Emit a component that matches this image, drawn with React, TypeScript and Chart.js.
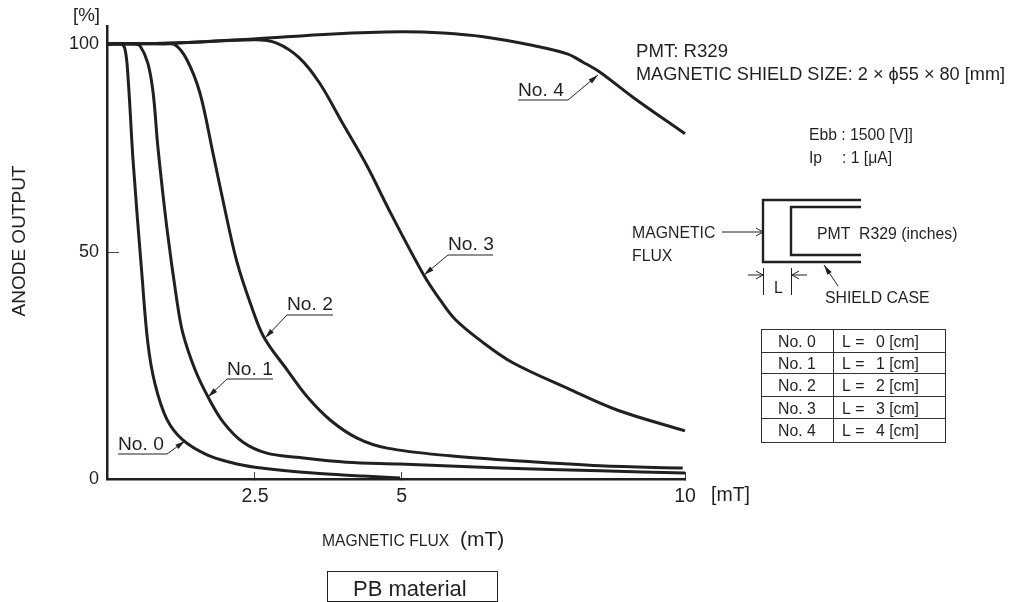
import React, { useEffect, useRef } from "react";
import { Chart, LinearScale, registerables } from "chart.js";

// ---- data ----
const xTicks = [2.5, 5, 10];
const yTicks = [0, 50, 100];
const xKnotValues = [0, 2.5, 5, 10];
const xKnotPositions = [0, 0.256, 0.51, 1];
const yKnotValues = [0, 50, 104.3];
const yKnotPositions = [0, 0.501, 1];

const no0X = [0, 0.22, 0.3, 0.355, 0.44, 0.59, 0.69, 0.81, 1.01, 1.28, 1.69, 2.08, 2.5, 3.49, 4.34, 4.97];
const no0Y = [100, 100, 99, 92.1, 72.1, 45, 30, 21, 13.2, 8.6, 5.3, 3.7, 2.6, 1.3, 0.66, 0.2];
const no1X = [0, 0.47, 0.56, 0.69, 0.78, 0.86, 1.01, 1.18, 1.28, 1.49, 1.71, 1.96, 2.3, 2.7, 3.21, 4.06, 4.96, 6.74, 8.5, 10];
const no1Y = [100, 100, 99.5, 95.4, 88.2, 75.2, 56, 39.4, 32.2, 24, 18, 12.6, 8.1, 5.7, 4.8, 3.7, 3.3, 2.4, 1.8, 1.3];
const no2X = [0, 0.98, 1.15, 1.35, 1.57, 1.79, 2.03, 2.2, 2.42, 2.65, 3.05, 3.39, 3.78, 4.24, 4.75, 5.85, 7.03, 8.5, 9.96];
const no2Y = [100, 100, 99.8, 96.2, 88.2, 73.8, 57.7, 47.6, 38.8, 31.3, 24, 18.1, 13, 9, 6.8, 5.1, 4, 2.9, 2.4];
const no3X = [0, 1.15, 2.5, 2.87, 3.26, 3.6, 3.99, 4.4, 4.82, 5.39, 5.68, 5.94, 6.42, 6.96, 7.92, 8.8, 10];
const no3Y = [100, 100.2, 101, 100.2, 96.6, 90.6, 81, 70.9, 59.1, 44.9, 39.4, 35.2, 30.2, 25.6, 20, 15.2, 10.6];
const no4X = [0, 1.15, 2.47, 3.83, 4.97, 5.73, 6.44, 7.32, 7.92, 8.2, 8.5, 9.08, 10];
const no4Y = [100, 100.2, 101.2, 102.4, 102.9, 102.6, 101.7, 99.6, 97.6, 95.6, 93.2, 87.2, 78.4];

const seriesNames = ["No. 0", "No. 1", "No. 2", "No. 3", "No. 4"];
const shieldLengths = ["0", "1", "2", "3", "4"];

const INK = "#231f20";
const FONT = '"Liberation Sans", Arial, sans-serif';

// Axis whose printed ticks are not evenly spaced in the drawing
class KnotScale extends LinearScale {
  static id = "knot";
  static defaults = LinearScale.defaults;
  getPixelForValue(value: number) {
    const vs = (this as any).options.knotValues as number[];
    const ps = (this as any).options.knotPositions as number[];
    let i = 0;
    while (i < vs.length - 2 && value > vs[i + 1]) i++;
    const dec = ps[i] + ((value - vs[i]) / (vs[i + 1] - vs[i])) * (ps[i + 1] - ps[i]);
    return (this as any).getPixelForDecimal(dec);
  }
  getValueForPixel(pixel: number) {
    const vs = (this as any).options.knotValues as number[];
    const ps = (this as any).options.knotPositions as number[];
    const dec = (this as any).getDecimalForPixel(pixel);
    let i = 0;
    while (i < ps.length - 2 && dec > ps[i + 1]) i++;
    return vs[i] + ((dec - ps[i]) / (ps[i + 1] - ps[i])) * (vs[i + 1] - vs[i]);
  }
}

Chart.register(...registerables, KnotScale as any);

function line(ctx: CanvasRenderingContext2D, pts: number[][], width: number) {
  ctx.lineWidth = width;
  ctx.beginPath();
  pts.forEach(([x, y], i) => (i ? ctx.lineTo(x, y) : ctx.moveTo(x, y)));
  ctx.stroke();
}

function solidHead(ctx: CanvasRenderingContext2D, fx: number, fy: number, tx: number, ty: number, len = 10, half = 2.6) {
  const a = Math.atan2(ty - fy, tx - fx);
  const bx = tx - Math.cos(a) * len;
  const by = ty - Math.sin(a) * len;
  ctx.beginPath();
  ctx.moveTo(tx, ty);
  ctx.lineTo(bx - Math.sin(a) * half, by + Math.cos(a) * half);
  ctx.lineTo(bx + Math.sin(a) * half, by - Math.cos(a) * half);
  ctx.closePath();
  ctx.fill();
}

function openArrow(ctx: CanvasRenderingContext2D, fx: number, y: number, tx: number) {
  const d = tx > fx ? -1 : 1;
  line(ctx, [[fx, y], [tx, y]], 1);
  line(ctx, [[tx + d * 7, y - 4], [tx, y], [tx + d * 7, y + 4]], 1);
}

function text(ctx: CanvasRenderingContext2D, s: string, x: number, y: number, size: number) {
  ctx.font = `${size}px ${FONT}`;
  ctx.fillText(s, x, y);
}

const annotationPlugin = {
  id: "annotations",
  afterDraw(chart: any) {
    const ctx: CanvasRenderingContext2D = chart.ctx;
    ctx.save();
    ctx.fillStyle = INK;
    ctx.strokeStyle = INK;
    ctx.textAlign = "left";
    ctx.textBaseline = "alphabetic";

    text(ctx, "[%]", 73, 21, 18.7);
    text(ctx, "[mT]", 711, 501, 19.5);

    ctx.save();
    ctx.translate(25, 241);
    ctx.rotate(-Math.PI / 2);
    ctx.textAlign = "center";
    text(ctx, "ANODE OUTPUT", 0, 0, 19);
    ctx.restore();

    text(ctx, "MAGNETIC FLUX", 322, 546, 15.7);
    text(ctx, "(mT)", 460, 546, 21);

    // material box
    ctx.lineWidth = 1;
    ctx.strokeRect(327.5, 571.5, 170, 30);
    text(ctx, "PB material", 353, 596, 22);

    // series call-outs: text, underline, tip
    const callouts: [string, number, number, number, number, number, number][] = [
      [seriesNames[0], 118, 450, 167, 454, 185, 441],
      [seriesNames[1], 227, 375, 273, 379, 208, 397],
      [seriesNames[2], 287, 310, 333, 315, 265, 338],
      [seriesNames[3], 448, 250, 493, 255, 424, 275],
      [seriesNames[4], 518, 96, 568, 100, 598, 75],
    ];
    callouts.forEach(([label, tx, ty, ux, uy, ax, ay]) => {
      text(ctx, label, tx, ty, 19.2);
      const elbowX = tx === 518 ? ux : tx === 118 ? ux : tx;
      line(ctx, [[tx, uy], [ux, uy]], 1);
      line(ctx, [[elbowX, uy], [ax, ay]], 1);
      solidHead(ctx, elbowX, uy, ax, ay);
    });

    // header notes
    text(ctx, "PMT: R329", 636, 57, 18.6);
    text(ctx, "MAGNETIC SHIELD SIZE: 2 × ϕ55 × 80 [mm]", 636, 80, 18.15);
    text(ctx, "Ebb : 1500 [V]]", 809, 140, 15.7);
    text(ctx, "Ip", 809, 163, 15.7);
    text(ctx, ": 1 [μA]", 842, 163, 15.7);

    // shield diagram
    line(ctx, [[861, 200], [763, 200], [763, 262], [861, 262]], 2.4);
    line(ctx, [[861, 207], [791, 207], [791, 255], [861, 255]], 2.4);
    text(ctx, "MAGNETIC", 632, 238, 15.8);
    text(ctx, "FLUX", 632, 261, 15.8);
    openArrow(ctx, 722, 232, 763);
    text(ctx, "PMT  R329 (inches)", 817, 239, 15.8);
    line(ctx, [[763.5, 268], [763.5, 295]], 1);
    line(ctx, [[791.5, 268], [791.5, 295]], 1);
    openArrow(ctx, 748, 275, 763);
    openArrow(ctx, 807, 275, 792);
    text(ctx, "L", 774, 293, 15.8);
    line(ctx, [[838, 286], [824, 265]], 1);
    solidHead(ctx, 838, 286, 824, 265);
    text(ctx, "SHIELD CASE", 825, 303, 15.8);

    // table of shield lengths
    const rowLines = [329, 352, 373, 396, 418, 442];
    const baselines = [347, 369, 391, 414, 436];
    ctx.strokeStyle = "#333";
    ctx.lineWidth = 1;
    ctx.strokeRect(761.5, 329.5, 184, 113);
    rowLines.slice(1, -1).forEach((y) => line(ctx, [[761, y + 0.5], [945, y + 0.5]], 1));
    line(ctx, [[833.5, 329], [833.5, 442]], 1);
    seriesNames.forEach((name, i) => {
      text(ctx, name, 778, baselines[i], 15.8);
      text(ctx, "L =", 842, baselines[i], 15.8);
      text(ctx, `${shieldLengths[i]} [cm]`, 876, baselines[i], 15.8);
    });
    ctx.restore();
  },
};

const zip = (xs: number[], ys: number[]) => xs.map((x, i) => ({ x, y: ys[i] }));

export default function App() {
  const ref = useRef<HTMLCanvasElement>(null);
  useEffect(() => {
    if (!ref.current) return;
    const curves = [zip(no0X, no0Y), zip(no1X, no1Y), zip(no2X, no2Y), zip(no3X, no3Y), zip(no4X, no4Y)];
    const chart = new Chart(ref.current, {
      type: "line",
      data: {
        datasets: curves.map((data, i) => ({
          label: seriesNames[i],
          data,
          borderColor: INK,
          borderWidth: 3,
          pointRadius: 0,
          fill: false,
          tension: 0.35,
          clip: false as any,
        })),
      },
      options: {
        responsive: false,
        animation: false,
        events: [],
        layout: { padding: { left: 0, top: 26, right: 326, bottom: 0 } },
        plugins: { legend: { display: false }, tooltip: { enabled: false }, title: { display: false } },
        scales: {
          x: {
            type: "knot" as any,
            min: 0,
            max: 10,
            knotValues: xKnotValues,
            knotPositions: xKnotPositions,
            afterBuildTicks: (s: any) => { s.ticks = xTicks.map((value) => ({ value })); },
            afterFit: (s: any) => { s.height = 123; s.paddingLeft = 0; s.paddingRight = 0; },
            border: { color: INK, width: 2.5 },
            grid: { drawOnChartArea: false, drawTicks: true, tickLength: -7, tickColor: "#444", tickWidth: 1 },
            ticks: {
              autoSkip: false, maxRotation: 0, padding: 13, color: INK,
              font: { family: FONT, size: 19.5 },
              callback: (v: any) => String(v),
            },
          },
          y: {
            type: "knot" as any,
            min: 0,
            max: 104.3,
            knotValues: yKnotValues,
            knotPositions: yKnotPositions,
            afterBuildTicks: (s: any) => { s.ticks = yTicks.map((value) => ({ value })); },
            afterFit: (s: any) => { s.width = 107; s.paddingTop = 0; s.paddingBottom = 0; },
            border: { color: INK, width: 2.5 },
            grid: {
              drawOnChartArea: false, drawTicks: true, tickLength: -12, tickWidth: 1,
              tickColor: (c: any) => (c.tick && c.tick.value === 50 ? "#444" : "rgba(0,0,0,0)"),
            },
            ticks: {
              autoSkip: false, padding: 20, color: INK,
              font: { family: FONT, size: 18 },
              callback: (v: any) => String(v),
            },
          },
        } as any,
      },
      plugins: [annotationPlugin],
    });
    return () => chart.destroy();
  }, []);
  return (
    <canvas
      ref={ref}
      width={1011}
      height={602}
      style={{ position: "absolute", left: 0, top: 0, width: 1011, height: 602, background: "#fff" }}
    />
  );
}
